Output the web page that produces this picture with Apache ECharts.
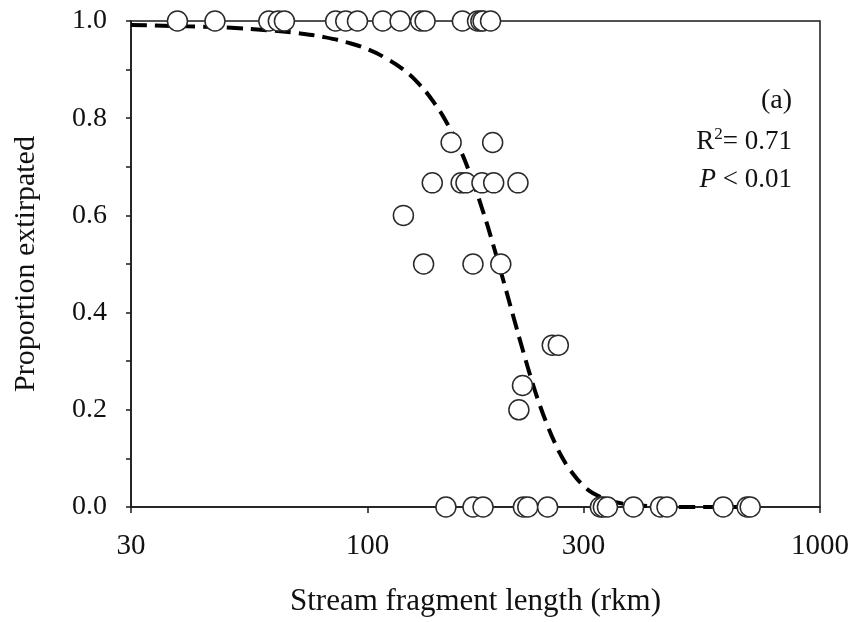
<!DOCTYPE html>
<html>
<head>
<meta charset="utf-8">
<script src="https://cdn.jsdelivr.net/npm/echarts@6/dist/echarts.min.js"></script>
<style>
html, body { margin: 0; padding: 0; background: #fff; }
#chart { width: 853px; height: 622px; }
</style>
</head>
<body>
<div id="chart"></div>
<script>
"use strict";
// 观测点：河段长度 (rkm) 与 灭绝比例
var lengthKm = [38, 46, 60.5, 63.5, 65.5, 85, 89.5, 95, 108, 118, 131, 134, 162, 175, 178, 180, 187,
	153, 189,
	139, 161, 165, 179, 190, 215,
	120,
	133, 171, 197,
	256, 264,
	220, 216,
	149, 171, 180, 221, 226, 250, 327, 332, 339, 387, 444, 459, 611, 690, 701];
var proportion = [1, 1, 1, 1, 1, 1, 1, 1, 1, 1, 1, 1, 1, 1, 1, 1, 1,
	0.75, 0.75,
	0.667, 0.667, 0.667, 0.667, 0.667, 0.667,
	0.6,
	0.5, 0.5, 0.5,
	0.333, 0.333,
	0.25, 0.2,
	0, 0, 0, 0, 0, 0, 0, 0, 0, 0, 0, 0, 0, 0, 0];

// 拟合曲线
var curveX = [30, 40, 50, 60, 70, 80, 90, 100, 110, 120, 130, 140, 150, 160, 170, 180, 190,
	200, 210, 220, 230, 240, 250, 260, 270, 280, 300, 320, 350, 400, 500, 700];
var curveY = [0.992, 0.989, 0.986, 0.981, 0.975, 0.967, 0.956, 0.942, 0.923, 0.900, 0.870, 0.833,
	0.789, 0.737, 0.675, 0.608, 0.536, 0.463, 0.392, 0.325, 0.264, 0.211, 0.167, 0.130, 0.100,
	0.077, 0.044, 0.025, 0.011, 0.003, 0.0, 0.0];

var xTicks = [30, 100, 300, 1000];

var serif = '"Liberation Serif", "DejaVu Serif", serif';

var scatterData = [];
for (var i = 0; i < lengthKm.length; i++) {
	scatterData.push([lengthKm[i], proportion[i]]);
}
var curveData = [];
for (var j = 0; j < curveX.length; j++) {
	curveData.push([curveX[j], curveY[j]]);
}

var myChart = echarts.init(document.getElementById('chart'), null, { renderer: 'canvas' });
var option = {
	backgroundColor: '#fff',
	animation: false,
	grid: {
		left: 131, right: 33, top: 21, bottom: 115,
		show: true,
		borderColor: '#1a1a1a',
		borderWidth: 1.5
	},
	xAxis: {
		type: 'log',
		logBase: 10,
		min: 30,
		max: 1000,
		name: 'Stream fragment length (rkm)',
		nameLocation: 'middle',
		nameGap: 79,
		nameTextStyle: { fontFamily: serif, fontSize: 31, color: '#111' },
		axisLine: { lineStyle: { color: '#1a1a1a', width: 1.5 } },
		axisTick: { show: true, inside: false, length: 6, customValues: xTicks,
			lineStyle: { color: '#1a1a1a', width: 1.5 } },
		minorTick: { show: false },
		axisLabel: {
			customValues: xTicks,
			margin: 25,
			fontFamily: serif, fontSize: 29, color: '#111',
			formatter: function (v) { return String(Math.round(v)); }
		},
		splitLine: { show: false }
	},
	yAxis: {
		type: 'value',
		min: 0,
		max: 1,
		interval: 0.1,
		name: 'Proportion extirpated',
		nameLocation: 'middle',
		nameGap: 90,
		nameTextStyle: { fontFamily: serif, fontSize: 30, color: '#111' },
		axisLine: { show: true, lineStyle: { color: '#1a1a1a', width: 1.5 } },
		axisTick: { show: true, inside: false, length: 5, lineStyle: { color: '#1a1a1a', width: 1.5 } },
		axisLabel: {
			margin: 24,
			fontFamily: serif, fontSize: 28, color: '#111',
			formatter: function (v) {
				var k = Math.round(v * 10);
				return k % 2 === 0 ? v.toFixed(1) : '';
			}
		},
		splitLine: { show: false }
	},
	graphic: [
		{
			type: 'text', right: 61, top: 87, z: 100,
			style: { text: '(a)', font: '28px ' + serif, fill: '#111' }
		},
		{
			type: 'text', right: 61, top: 126, z: 100,
			style: {
				text: '{r|R}{s|2}{r|= 0.71}',
				fill: '#111',
				rich: {
					r: { fontFamily: serif, fontSize: 27, color: '#111', lineHeight: 32 },
					s: { fontFamily: serif, fontSize: 17, color: '#111', verticalAlign: 'top', lineHeight: 17 }
				}
			}
		},
		{
			type: 'text', right: 61, top: 166, z: 100,
			style: {
				text: '{i|P}{r| < 0.01}',
				fill: '#111',
				rich: {
					i: { fontFamily: serif, fontSize: 27, fontStyle: 'italic', color: '#111' },
					r: { fontFamily: serif, fontSize: 27, color: '#111' }
				}
			}
		}
	],
	series: [
		{
			name: 'fit',
			type: 'line',
			data: curveData,
			smooth: true,
			showSymbol: false,
			symbol: 'none',
			z: 2,
			lineStyle: { color: '#000', width: 4, type: [16, 8] }
		},
		{
			name: 'obs',
			type: 'scatter',
			data: scatterData,
			symbol: 'circle',
			symbolSize: 20,
			z: 3,
			itemStyle: { color: '#fff', borderColor: '#2a2a2a', borderWidth: 1.5, opacity: 1 }
		}
	]
};
myChart.setOption(option);
</script>
</body>
</html>
